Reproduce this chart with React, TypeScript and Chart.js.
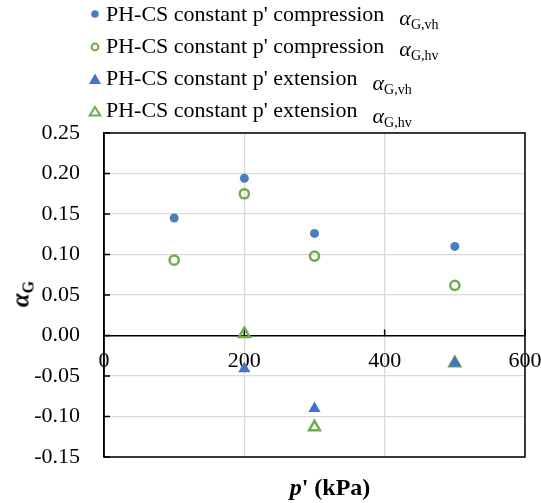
import React, { useEffect, useRef } from "react";
import { Chart, registerables } from "chart.js";

Chart.register(...registerables);

// ---- data ----
const compP = [100, 200, 300, 500];
const compVh = [0.145, 0.194, 0.126, 0.11];
const compHv = [0.093, 0.175, 0.098, 0.062];
const extP = [200, 300, 500];
const extVh = [-0.041, -0.09, -0.034];
const extHv = [0.002, -0.113, -0.034];

const xMin = 0;
const xMax = 600;
const xStep = 200;
const yMin = -0.15;
const yMax = 0.25;
const yStep = 0.05;

const legendLabels = [
  "PH-CS constant p' compression",
  "PH-CS constant p' compression",
  "PH-CS constant p' extension",
  "PH-CS constant p' extension",
];
const legendSubs = ["G,vh", "G,hv", "G,vh", "G,hv"];

const BLUE = "#4a7ebf";
const BLUE_T = "#4472c4";
const GREEN = "#70ad47";
const FONT = "'Liberation Serif', 'Times New Roman', serif";

const framePlugin = {
  id: "frame",
  beforeDatasetsDraw(chart: any) {
    const { ctx, chartArea, scales } = chart;
    const { left, right, top, bottom } = chartArea;
    const x = scales.x;
    const y = scales.y;
    ctx.save();
    ctx.strokeStyle = "#000";
    ctx.lineWidth = 1.5;
    ctx.strokeRect(left, top, right - left, bottom - top);
    ctx.beginPath();
    const y0 = y.getPixelForValue(0);
    y.ticks.forEach((t: any) => {
      const py = y.getPixelForValue(t.value);
      ctx.moveTo(left, py);
      ctx.lineTo(left + 6, py);
    });
    x.ticks.forEach((t: any) => {
      const px = x.getPixelForValue(t.value);
      ctx.moveTo(px, y0);
      ctx.lineTo(px, y0 - 6);
    });
    ctx.stroke();
    ctx.restore();
  },
};

function toPts(xs: number[], ys: number[]) {
  return xs.map((v, i) => ({ x: v, y: ys[i] }));
}

export default function App() {
  const ref = useRef<HTMLCanvasElement>(null);

  useEffect(() => {
    if (!ref.current) return;
    const chart = new Chart(ref.current, {
      type: "scatter",
      data: {
        datasets: [
          {
            label: legendLabels[0],
            data: toPts(compP, compVh),
            pointStyle: "circle",
            pointRadius: 4.5,
            backgroundColor: BLUE,
            borderColor: BLUE,
            borderWidth: 0,
          },
          {
            label: legendLabels[1],
            data: toPts(compP, compHv),
            pointStyle: "circle",
            pointRadius: 4.6,
            backgroundColor: "rgba(0,0,0,0)",
            borderColor: GREEN,
            borderWidth: 2.5,
          },
          {
            label: legendLabels[2],
            data: toPts(extP, extVh),
            pointStyle: "triangle",
            pointRadius: 7,
            backgroundColor: BLUE_T,
            borderColor: BLUE_T,
            borderWidth: 0,
          },
          {
            label: legendLabels[3],
            data: toPts(extP, extHv),
            pointStyle: "triangle",
            pointRadius: 6.2,
            backgroundColor: "rgba(0,0,0,0)",
            borderColor: GREEN,
            borderWidth: 2.5,
          },
        ],
      },
      options: {
        animation: false,
        responsive: false,
        maintainAspectRatio: false,
        layout: { padding: { left: 0, top: 133, right: 16, bottom: 46 } },
        plugins: {
          legend: { display: false },
          tooltip: { enabled: false },
        },
        scales: {
          x: {
            type: "linear",
            position: { y: 0 } as any,
            min: xMin,
            max: xMax,
            afterFit(scale: any) {
              scale.paddingLeft = 0;
              scale.paddingRight = 0;
            },
            ticks: {
              stepSize: xStep,
              color: "#000",
              font: { family: FONT, size: 22 },
              padding: 13,
              maxRotation: 0,
            },
            grid: { color: "#d9d9d9", lineWidth: 1.3, drawTicks: false },
            border: { display: true, color: "#000", width: 1.5 },
          },
          y: {
            type: "linear",
            min: yMin,
            max: yMax,
            afterFit(scale: any) {
              scale.width = 104;
              scale.paddingTop = 0;
              scale.paddingBottom = 0;
            },
            ticks: {
              stepSize: yStep,
              color: "#000",
              font: { family: FONT, size: 22 },
              padding: 24,
              callback: (v: any) => Number(v).toFixed(2),
            },
            grid: { color: "#d9d9d9", lineWidth: 1.3, drawTicks: false },
            border: { display: true, color: "#000", width: 1.5 },
          },
        },
      },
      plugins: [framePlugin],
    });
    return () => chart.destroy();
  }, []);

  const rowBase = [21, 53.5, 85.5, 117.5];
  const markers = [
    <svg width="14" height="14" viewBox="0 0 14 14"><circle cx="7" cy="7" r="3.8" fill={BLUE} /></svg>,
    <svg width="14" height="14" viewBox="0 0 14 14"><circle cx="7" cy="7" r="3.4" fill="none" stroke={GREEN} strokeWidth="2" /></svg>,
    <svg width="14" height="14" viewBox="0 0 14 14"><polygon points="7,1.5 13,12 1,12" fill={BLUE_T} /></svg>,
    <svg width="14" height="14" viewBox="0 0 14 14"><polygon points="7,3 12.3,11.5 1.7,11.5" fill="none" stroke={GREEN} strokeWidth="2" /></svg>,
  ];
  const alphaDrop = [4, 3, 5, 6];

  return (
    <div style={{ position: "absolute", left: 0, top: 0, width: 541, height: 503, background: "#fff" }}>
      <canvas ref={ref} width={541} height={503} style={{ position: "absolute", left: 0, top: 0, width: 541, height: 503 }} />
      {legendLabels.map((lab, i) => (
        <React.Fragment key={i}>
          <div style={{ position: "absolute", left: 88, top: rowBase[i] - 14, width: 14, height: 14 }}>{markers[i]}</div>
          <div
            style={{
              position: "absolute",
              left: 106,
              top: rowBase[i] - 20.5,
              fontFamily: FONT,
              fontSize: 22,
              lineHeight: "26px",
              whiteSpace: "nowrap",
              color: "#000",
            }}
          >
            {lab}
            <span style={{ display: "inline-block", width: 15 }} />
            <span style={{ position: "relative", top: alphaDrop[i] }}>
              <span style={{ fontStyle: "italic", fontSize: 22 }}>α</span>
              <span style={{ fontSize: 14, position: "relative", top: 4 }}>{legendSubs[i]}</span>
            </span>
          </div>
        </React.Fragment>
      ))}
      <div
        style={{
          position: "absolute",
          left: 22,
          top: 294,
          transform: "translate(-50%, -50%) rotate(-90deg)",
          fontFamily: FONT,
          fontWeight: "bold",
          fontSize: 25,
          whiteSpace: "nowrap",
          lineHeight: "28px",
          color: "#000",
        }}
      >
        <span style={{ fontStyle: "italic" }}>α</span>
        <span style={{ fontSize: 16, position: "relative", top: 5 }}>G</span>
      </div>
      <div
        style={{
          position: "absolute",
          left: 330,
          top: 487,
          transform: "translate(-50%, -50%)",
          fontFamily: FONT,
          fontWeight: "bold",
          fontSize: 24,
          whiteSpace: "nowrap",
          lineHeight: "28px",
          color: "#000",
        }}
      >
        <span style={{ fontStyle: "italic" }}>p</span>' (kPa)
      </div>
    </div>
  );
}
